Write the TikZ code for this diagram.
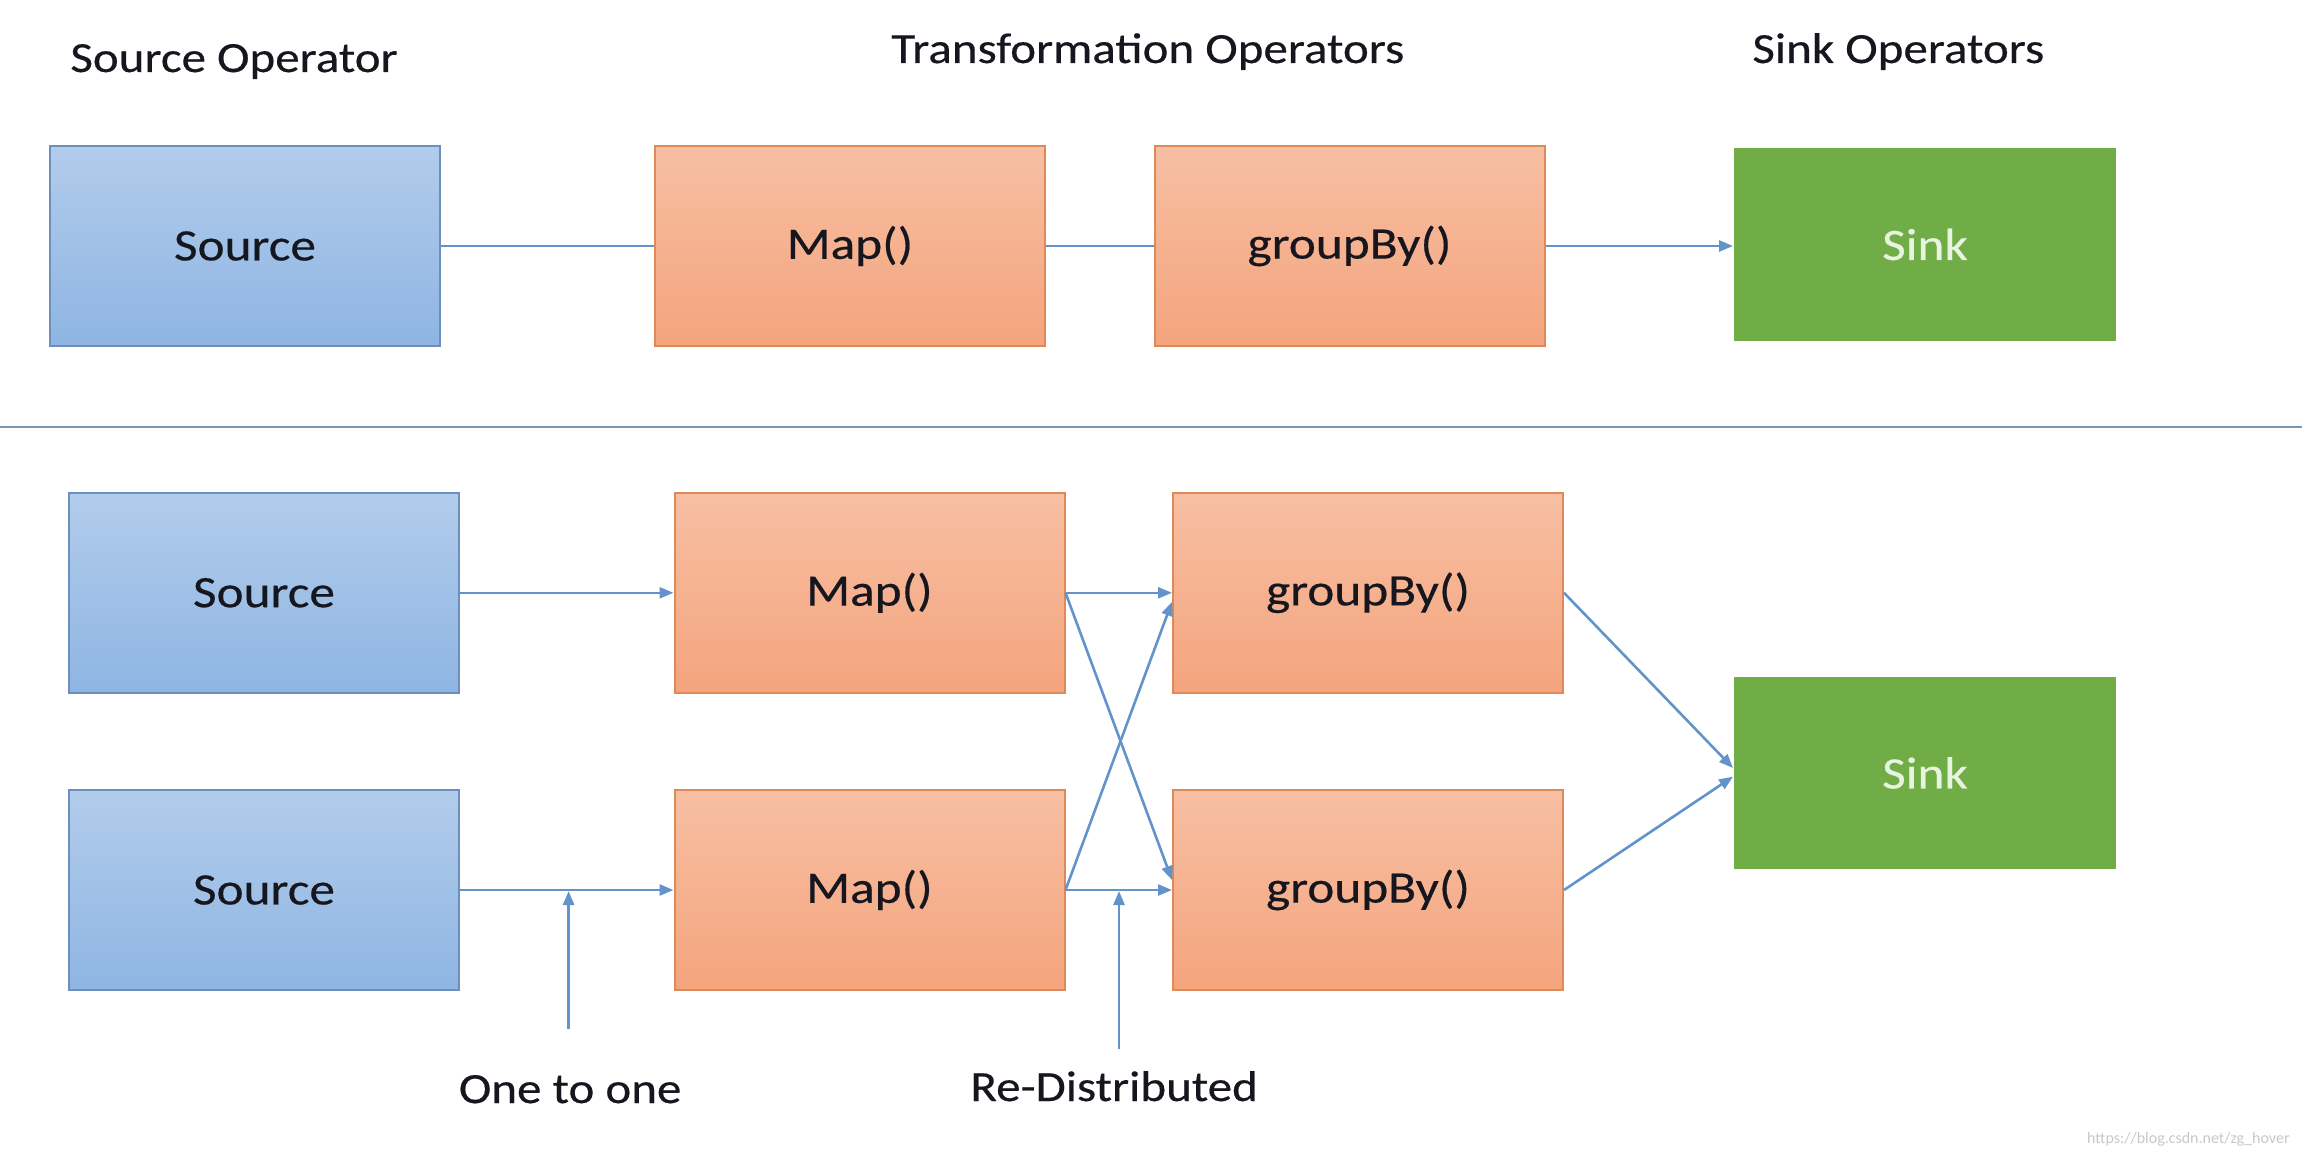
\documentclass[tikz,border=0pt]{standalone}
\usepackage{fontspec}
\setmainfont{Carlito}
\newfontfamily\widefont{Carlito}[FakeStretch=1.14,FakeBold=0.4]
\usetikzlibrary{arrows.meta,calc}
\definecolor{srctop}{RGB}{178,204,235}
\definecolor{srcbot}{RGB}{142,181,227}
\definecolor{srcedge}{RGB}{108,143,190}
\definecolor{maptop}{RGB}{247,191,163}
\definecolor{mapbot}{RGB}{244,164,125}
\definecolor{mapedge}{RGB}{222,137,88}
\definecolor{sinkfill}{RGB}{112,173,71}
\definecolor{sinktext}{RGB}{232,244,224}
\definecolor{conncol}{RGB}{98,148,203}
\definecolor{sepcol}{RGB}{118,152,178}
\definecolor{inktext}{RGB}{22,22,30}
\definecolor{wmark}{RGB}{200,200,200}
\begin{document}
\begin{tikzpicture}[x=0.5pt,y=-0.5pt,
  box/.style={rectangle, inner sep=0pt, minimum width=195pt, minimum height=100pt,
    font=\widefont\fontsize{22.5}{26}\selectfont, line width=1pt},
  srcbox/.style={box, draw=srcedge, top color=srctop, bottom color=srcbot, text=inktext},
  mapbox/.style={box, draw=mapedge, top color=maptop, bottom color=mapbot, text=inktext},
  sinkbox/.style={box, fill=sinkfill, text=sinktext, minimum width=191pt, minimum height=96pt},
  conn/.style={draw=conncol, line width=1.3pt},
  arr/.style={conn, -{Triangle[length=7pt,width=5.5pt]}},
  title/.style={anchor=base west, inner sep=0pt, font=\widefont\fontsize{21.5}{26}\selectfont, text=inktext},
  sepline/.style={draw=sepcol, line width=1.2pt}
]
\useasboundingbox (0,0) rectangle (2302,1156);
\fill[white] (0,0) rectangle (2302,1156);

% titles
\node[title] (tsrc) at (70,72) {Source Operator};
\node[title] (ttr) at (891,63) {Transformation Operators};
\node[title] (tsink) at (1752,63) {Sink Operators};

% top row
\node[srcbox] (s0) at (245,246) {Source};
\node[mapbox] (m0) at (850,246) {Map()};
\node[mapbox] (g0) at (1349.5,246) {groupBy()};
\node[sinkbox] (k0) at (1925,244.5) {Sink};

\draw[conn] (s0.east) -- (m0.west);
\draw[conn] (m0.east) -- (g0.west);
\draw[arr] (g0.east) -- (g0.east -| k0.west);

% separator
\coordinate (sepL) at (0,427);
\coordinate (sepR) at (2302,427);
\draw[sepline] (sepL) -- (sepR);

% bottom rows
\node[srcbox] (s1) at (264,592.8) {Source};
\node[srcbox] (s2) at (264,890) {Source};
\node[mapbox] (m1) at (869.5,592.8) {Map()};
\node[mapbox] (m2) at (869.5,890) {Map()};
\node[mapbox] (g1) at (1368,592.8) {groupBy()};
\node[mapbox] (g2) at (1368,890) {groupBy()};
\node[sinkbox] (k1) at (1925,773) {Sink};

\draw[arr] (s1.east) -- (m1.west);
\draw[arr] (s2.east) -- (m2.west);
\draw[arr] (m1.east) -- (g1.west);
\draw[arr] (m2.east) -- (g2.west);
\draw[arr] (m1.east) -- ([yshift=5pt]g2.west);
\draw[arr] (m2.east) -- ([yshift=-4.5pt]g1.west);
\draw[arr] (g1.east) -- ([yshift=2.5pt]k1.west);
\draw[arr] (g2.east) -- ([yshift=-1.8pt]k1.west);

% pointer arrows
\coordinate (p1a) at (568.6,1029);
\coordinate (p1b) at (568.6,891);
\coordinate (p2a) at (1119,1049);
\coordinate (p2b) at (1119,891);
\draw[arr] (p1a) -- (p1b);
\draw[arr] (p2a) -- (p2b);

\node[title] (l1) at (458.5,1103) {One to one};
\node[title] (l2) at (970,1101) {Re-Distributed};

\node[anchor=base east, inner sep=0pt, text=wmark, font=\fontsize{8}{9}\selectfont] (wm) at (2290,1143) {https://blog.csdn.net/zg\_hover};
\end{tikzpicture}
\end{document}
